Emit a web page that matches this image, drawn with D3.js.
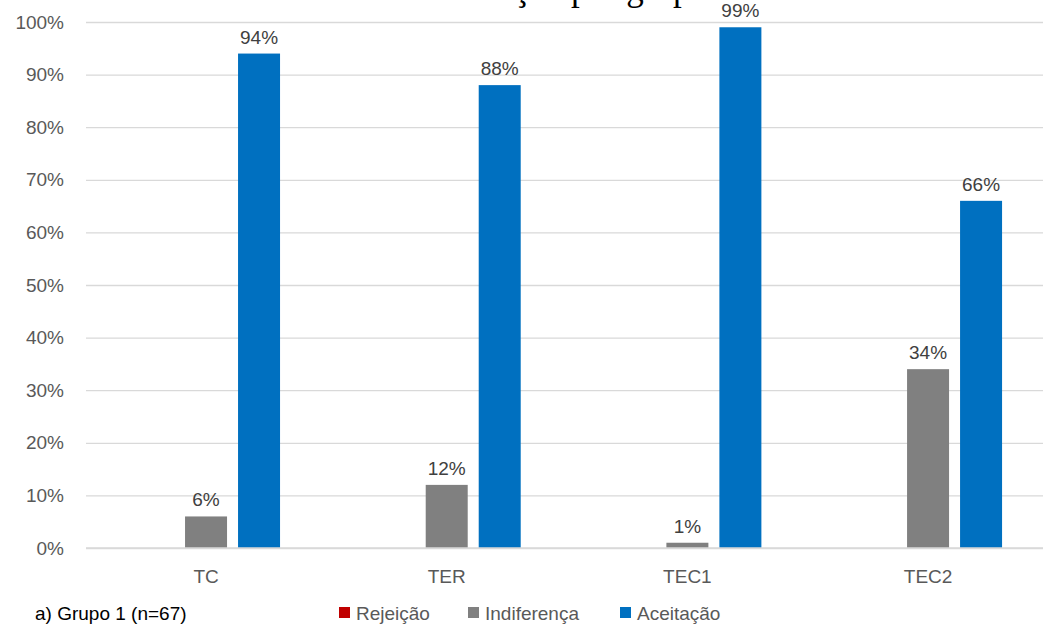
<!DOCTYPE html>
<html>
<head>
<meta charset="utf-8">
<script src="https://cdn.jsdelivr.net/npm/d3@7"></script>
<style>
  html, body { margin: 0; padding: 0; background: #fff; }
  svg { display: block; }
</style>
</head>
<body>
<svg id="chart" width="1043" height="626"></svg>
<script>
// Response shares per treatment (fraction of respondents)
const categories = ["TC", "TER", "TEC1", "TEC2"];
const seriesNames = ["Rejeição", "Indiferença", "Aceitação"];
const rejeicao    = [0, 0, 0, 0];
const indiferenca = [0.06, 0.12, 0.01, 0.34];
const aceitacao   = [0.94, 0.88, 0.99, 0.66];
const yTicks = [0, 0.1, 0.2, 0.3, 0.4, 0.5, 0.6, 0.7, 0.8, 0.9, 1.0];
const colors = ["#c00000", "#808080", "#0070c0"];
const groupLabel = "a) Grupo 1 (n=67)";
const titleText = "Aceitação por grupo";

const seriesValues = [rejeicao, indiferenca, aceitacao];
const rows = categories.map((c, i) => ({
  cat: c,
  vals: seriesNames.map((s, k) => ({ key: s, value: seriesValues[k][i], color: colors[k] }))
}));

const svg = d3.select("#chart");
const textColor = "#595959";
const sans = "'Liberation Sans', Arial, sans-serif";

const W = 1043;
const x = d3.scaleBand().domain(categories).range([85.7, 1048.4]);
const groupWidth = 148;
const xInner = d3.scaleBand().domain(seriesNames).range([0, groupWidth]).paddingInner(11 / 53);
const y = d3.scaleLinear().domain([0, 1]).range([548, 22]);

// Title, sitting above the top edge of the page (only descenders show)
svg.append("text")
  .attr("x", 708).attr("y", -0.5)
  .attr("text-anchor", "end")
  .attr("font-family", "'Liberation Serif', 'Times New Roman', serif")
  .attr("font-size", 35)
  .attr("fill", "#000")
  .text(titleText);

// Gridlines and y labels
const yAxis = d3.axisLeft(y)
  .tickValues(yTicks)
  .tickFormat(d3.format(".0%"))
  .tickSize(-(W - 86))
  .tickPadding(22);

const gy = svg.append("g")
  .attr("transform", "translate(86,0)")
  .call(yAxis);
gy.select(".domain").remove();
gy.selectAll(".tick line").attr("stroke", "#d9d9d9").attr("stroke-width", 1.3);
gy.selectAll(".tick text")
  .attr("font-family", sans)
  .attr("font-size", 19)
  .attr("fill", textColor);

// Bars
const groups = svg.append("g").selectAll("g")
  .data(rows)
  .join("g")
  .attr("transform", d => `translate(${x(d.cat) + x.bandwidth() / 2 - groupWidth / 2},0)`);

groups.selectAll("rect")
  .data(d => d.vals)
  .join("rect")
  .attr("x", d => xInner(d.key))
  .attr("width", xInner.bandwidth())
  .attr("y", d => y(d.value))
  .attr("height", d => y(0) - y(d.value))
  .attr("fill", d => d.color);

// Value labels (non-zero shares only)
groups.selectAll("text.val")
  .data(d => d.vals.filter(v => v.value > 0))
  .join("text")
  .attr("class", "val")
  .attr("x", d => xInner(d.key) + xInner.bandwidth() / 2)
  .attr("y", d => y(d.value) - 10)
  .attr("text-anchor", "middle")
  .attr("font-family", sans)
  .attr("font-size", 19)
  .attr("fill", "#404040")
  .text(d => d3.format(".0%")(d.value));

// Baseline
svg.append("line")
  .attr("x1", 86).attr("x2", W)
  .attr("y1", y(0)).attr("y2", y(0))
  .attr("stroke", "#d9d9d9").attr("stroke-width", 1.5);

// Category axis
const gx = svg.append("g")
  .attr("transform", `translate(0,${y(0)})`)
  .call(d3.axisBottom(x).tickSize(0).tickPadding(22));
gx.select(".domain").remove();
gx.selectAll(".tick text")
  .attr("font-family", sans)
  .attr("font-size", 19)
  .attr("fill", textColor);

// Group caption
svg.append("text")
  .attr("x", 35).attr("y", 620)
  .attr("font-family", sans)
  .attr("font-size", 19)
  .attr("fill", "#000")
  .text(groupLabel);

// Legend
const legendX = [339, 468, 620];
const legend = svg.append("g").selectAll("g")
  .data(seriesNames)
  .join("g")
  .attr("transform", (d, i) => `translate(${legendX[i]},0)`);
legend.append("rect")
  .attr("x", 0).attr("y", 607)
  .attr("width", 11).attr("height", 11)
  .attr("fill", (d, i) => colors[i]);
legend.append("text")
  .attr("x", 17).attr("y", 620)
  .attr("font-family", sans)
  .attr("font-size", 19)
  .attr("fill", textColor)
  .text(d => d);
</script>
</body>
</html>
